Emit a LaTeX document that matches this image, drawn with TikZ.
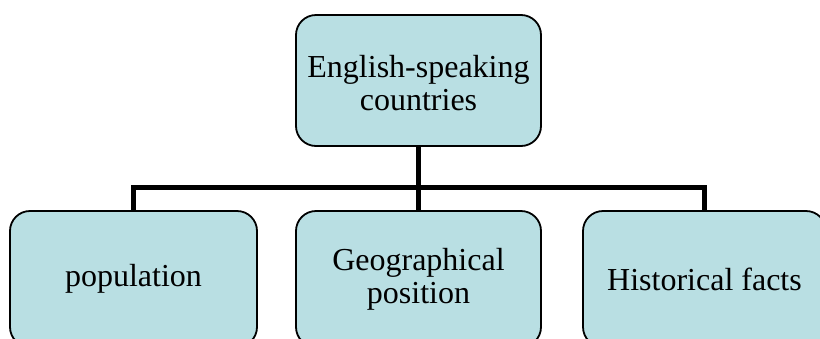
\documentclass[tikz,border=0pt]{standalone}
\usepackage{fontspec}
\setmainfont{Liberation Serif}
\definecolor{boxfill}{RGB}{185,223,227}
\tikzset{
  topic/.style={draw=black, line width=1.8pt, fill=boxfill, rounded corners=20pt,
    align=center, inner sep=0pt, font=\fontsize{32}{33}\selectfont},
  conn/.style={draw=black, line width=5.5pt, line join=miter}
}
\begin{document}
\begin{tikzpicture}[x=1pt, y=-1pt]
  \useasboundingbox (0,0) rectangle (820,338);
  \clip (0,0) rectangle (820,338);
  \fill[white] (0,0) rectangle (820,338);

  % horizontal bus joining the three branches
  \coordinate (bus) at (0,187.5);

  % root
  \node[topic, minimum width=245pt, minimum height=131pt] (root) at (418.5,80.5)
    {\raisebox{-13pt}[0pt][0pt]{\begin{tabular}{@{}c@{}}English-speaking\\countries\end{tabular}}};

  % branches
  \node[topic, minimum width=247pt, minimum height=136pt] (pop) at (133.5,279)
    {population};
  \node[topic, minimum width=245pt, minimum height=136pt] (geo) at (418.5,279)
    {Geographical\\position};
  \node[topic, minimum width=243pt, minimum height=136pt] (hist) at (704.5,279)
    {Historical facts};

  % connectors
  \draw[conn] (root.south) -- (root.south |- bus);
  \draw[conn] (pop.north) -- (pop.north |- bus) -- (hist.north |- bus) -- (hist.north);
  \draw[conn] (geo.north) -- (geo.north |- bus);
\end{tikzpicture}
\end{document}
